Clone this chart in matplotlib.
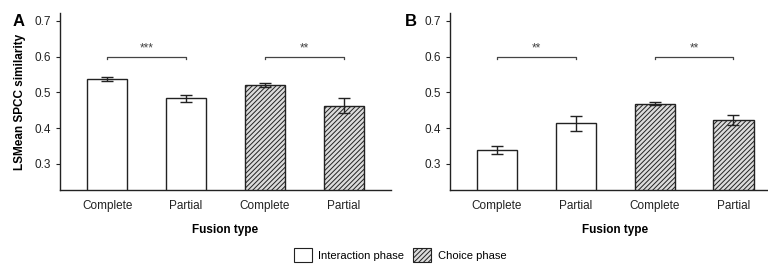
import numpy as np
import matplotlib.pyplot as plt
from matplotlib.patches import Patch

plt.rcParams['font.family'] = ['Liberation Sans', 'DejaVu Sans']
plt.rcParams['hatch.linewidth'] = 0.7
plt.rcParams['hatch.color'] = '#333333'

# data
fusion = ["Complete", "Partial", "Complete", "Partial"]
phase = ["Interaction", "Interaction", "Choice", "Choice"]
means_a = [0.538, 0.484, 0.521, 0.463]
errs_a = [0.006, 0.010, 0.006, 0.020]
means_b = [0.339, 0.413, 0.468, 0.423]
errs_b = [0.011, 0.021, 0.004, 0.015]
stars_a = ["***", "**"]
stars_b = ["**", "**"]
bracket_y = 0.598

fig = plt.figure(figsize=(7.68, 2.65), dpi=100)
ax_a = fig.add_axes([60/768, 1-190/265, 331/768, 177/265])
ax_b = fig.add_axes([449.7/768, 1-190/265, 331/768, 177/265])

HATCH = '///////'


def draw_panel(ax, means, errs, stars):
    x = np.arange(len(means))
    for i in range(len(means)):
        if phase[i] == "Choice":
            ax.bar(x[i], means[i], width=0.51, color='#dcdcdc', edgecolor='#222222',
                   hatch=HATCH, linewidth=1.0, zorder=2)
        else:
            ax.bar(x[i], means[i], width=0.51, color='white', edgecolor='#222222',
                   linewidth=1.0, zorder=2)
    ax.errorbar(x, means, yerr=errs, fmt='none', ecolor='#222222', elinewidth=1.0,
                capsize=4, capthick=1.0, zorder=3)
    # significance brackets
    for k, (i, j) in enumerate([(0, 1), (2, 3)]):
        ax.plot([x[i], x[i], x[j], x[j]],
                [bracket_y - 0.004, bracket_y, bracket_y, bracket_y - 0.004],
                color='#444444', lw=0.9, zorder=3)
        ax.text((x[i] + x[j]) / 2, bracket_y + 0.007, stars[k], ha='center', va='bottom',
                fontsize=8.5, color='#444444')
    ax.set_xlim(-0.6, 3.6)
    ax.set_ylim(0.227, 0.722)
    ax.set_yticks([0.3, 0.4, 0.5, 0.6, 0.7])
    ax.set_yticklabels(["0.3", "0.4", "0.5", "0.6", "0.7"])
    ax.set_xticks(x)
    ax.set_xticklabels(fusion)
    ax.tick_params(axis='x', length=0, pad=7, labelsize=8.5, labelcolor='#222222')
    ax.tick_params(axis='y', length=3, width=0.8, labelsize=8.5, labelcolor='#222222',
                   color='#222222')
    for s in ['top', 'right']:
        ax.spines[s].set_visible(False)
    for s in ['left', 'bottom']:
        ax.spines[s].set_linewidth(1.0)
        ax.spines[s].set_color('#222222')
    ax.set_xlabel("Fusion type", fontsize=8.5, fontweight='bold', labelpad=9)


draw_panel(ax_a, means_a, errs_a, stars_a)
draw_panel(ax_b, means_b, errs_b, stars_b)
ax_a.set_ylabel("LSMean SPCC similarity", fontsize=8.5, fontweight='bold', labelpad=6)

fig.text(19/768, 1-22/265, "A", fontsize=12, fontweight='bold', ha='center', va='center')
fig.text(411/768, 1-22/265, "B", fontsize=12, fontweight='bold', ha='center', va='center')

handles = [Patch(facecolor='white', edgecolor='#222222', linewidth=0.8, label='Interaction phase'),
           Patch(facecolor='#dcdcdc', edgecolor='#222222', hatch=HATCH, linewidth=0.8,
                 label='Choice phase')]
fig.legend(handles=handles, loc='center', bbox_to_anchor=(400/768, 1-255/265), ncol=2,
           frameon=False, fontsize=8, handlelength=1.6, handleheight=1.6,
           columnspacing=0.8, handletextpad=0.6)

fig.savefig("out.png", dpi=100)
